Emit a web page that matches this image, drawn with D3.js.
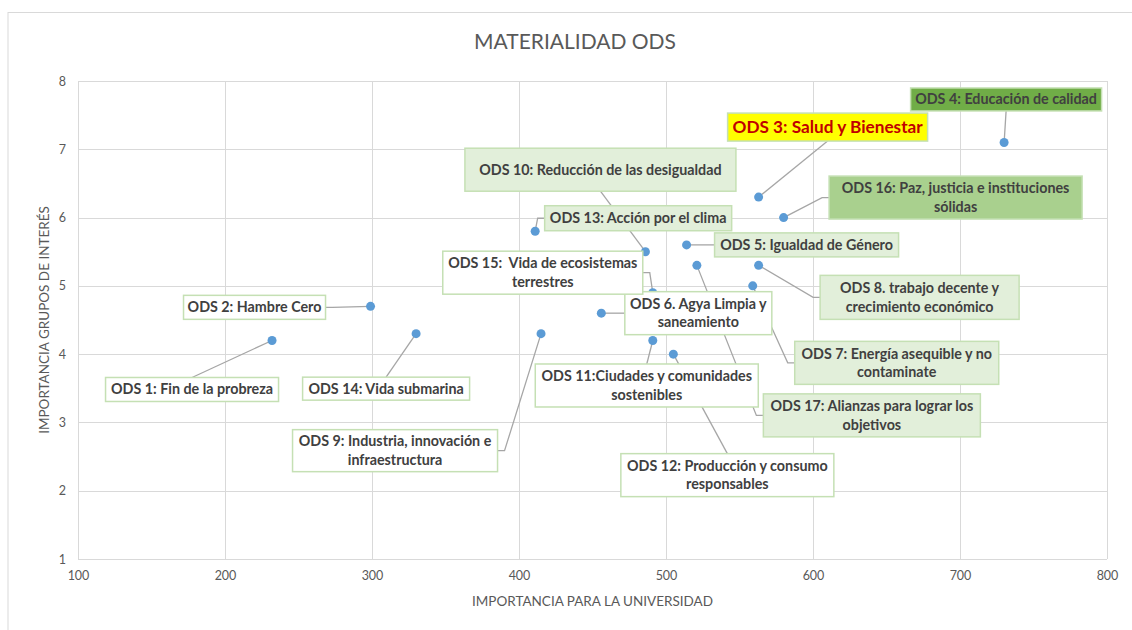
<!DOCTYPE html>
<html>
<head>
<meta charset="utf-8">
<script src="https://cdn.jsdelivr.net/npm/d3@7"></script>
<style>
  body { margin: 0; background: #fff; }
  svg text { font-family: Lato, "Open Sans", sans-serif; }
</style>
</head>
<body>
<div id="chart"></div>
<script>
// materialidad: universidad (x) vs grupos de interes (y)
var labels = [
    "ODS 1: Fin de la probreza",
    "ODS 2: Hambre Cero",
    "ODS 3: Salud y Bienestar",
    "ODS 4: Educación de calidad",
    "ODS 5: Igualdad de Género",
    "ODS 6. Agya Limpia y\nsaneamiento",
    "ODS 7: Energía asequible y no\ncontaminate",
    "ODS 8. trabajo decente y\ncrecimiento económico",
    "ODS 9: Industria, innovación e\ninfraestructura",
    "ODS 10: Reducción de las desigualdad",
    "ODS 11:Ciudades y comunidades\nsostenibles",
    "ODS 12: Producción y consumo\nresponsables",
    "ODS 13: Acción por el clima",
    "ODS 14: Vida submarina",
    "ODS 15:  Vida de ecosistemas\nterrestres",
    "ODS 16: Paz, justicia e instituciones\nsólidas",
    "ODS 17: Alianzas para lograr los\nobjetivos"
];
var universidad = [232, 299, 563, 730, 514, 456, 559, 563, 415, 486, 491, 505, 411, 330, 491, 580, 521];
var gruposInteres = [4.2, 4.7, 6.3, 7.1, 5.6, 4.6, 5.0, 5.3, 4.3, 5.5, 4.2, 4.0, 5.8, 4.3, 4.9, 6.0, 5.3];

var xTicks = [100, 200, 300, 400, 500, 600, 700, 800];
var yTicks = [1, 2, 3, 4, 5, 6, 7, 8];

// label box placement (offset from point, in px) and look
var labelLayout = [
    { dx: -80, dy: 49, w: 173, h: 24, look: "white" },
    { dx: -116, dy: 1, w: 142, h: 24, look: "white" },
    { dx: 69, dy: -70, w: 200, h: 28, look: "yellow" },
    { dx: 2, dy: -43, w: 191, h: 23, look: "dark" },
    { dx: 120, dy: 0, w: 184, h: 24, look: "light" },
    { dx: 97, dy: 0, w: 147, h: 43, look: "white" },
    { dx: 144, dy: 77, w: 204, h: 43, look: "light" },
    { dx: 161, dy: 32, w: 199, h: 44, look: "light" },
    { dx: -146, dy: 117, w: 205, h: 42, look: "white" },
    { dx: -45, dy: -82, w: 271, h: 43, look: "light" },
    { dx: -6, dy: 45, w: 223, h: 43, look: "white" },
    { dx: 54, dy: 121, w: 213, h: 43, look: "white" },
    { dx: 103, dy: -13, w: 187, h: 25, look: "light" },
    { dx: -30, dy: 55, w: 167, h: 23, look: "white" },
    { dx: -110, dy: -20, w: 200, h: 43, look: "white" },
    { dx: 172, dy: -20, w: 253, h: 43, look: "mid" },
    { dx: 175, dy: 150, w: 217, h: 43, look: "light" }
];

var looks = {
    white: { fill: "#ffffff", text: "#404040", size: 14.3 },
    light: { fill: "#e2efda", text: "#404040", size: 14.3 },
    mid: { fill: "#a9d08e", text: "#404040", size: 14.3 },
    dark: { fill: "#70ad47", text: "#404040", size: 14.3 },
    yellow: { fill: "#ffff00", text: "#c00000", size: 17.2 }
};

var W = 1132, H = 630;
var margin = { top: 81, right: 25, bottom: 71, left: 78 };

var svg = d3.select("#chart").append("svg")
    .attr("width", W)
    .attr("height", H);

// chart frame
svg.append("rect")
    .attr("x", 8).attr("y", 12.5)
    .attr("width", W + 20).attr("height", H + 20)
    .attr("fill", "none").attr("stroke", "#d9d9d9");

var x = d3.scaleLinear().domain([100, 800]).range([margin.left, W - margin.right]);
var y = d3.scaleLinear().domain([1, 8]).range([H - margin.bottom, margin.top]);

var grid = svg.append("g");
grid.selectAll(".vx").data(xTicks).enter().append("line")
    .attr("x1", d => Math.round(x(d)) + 0.5).attr("x2", d => Math.round(x(d)) + 0.5)
    .attr("y1", y(8)).attr("y2", y(1))
    .attr("stroke", "#d9d9d9");
grid.selectAll(".hy").data(yTicks).enter().append("line")
    .attr("y1", d => Math.round(y(d)) + 0.5).attr("y2", d => Math.round(y(d)) + 0.5)
    .attr("x1", x(100)).attr("x2", x(800))
    .attr("stroke", "#d9d9d9");

var xAxis = svg.append("g")
    .attr("transform", "translate(0," + y(1) + ")")
    .call(d3.axisBottom(x).tickValues(xTicks).tickFormat(d3.format("d")).tickSize(0).tickPadding(12));
var yAxis = svg.append("g")
    .attr("transform", "translate(" + x(100) + ",0)")
    .call(d3.axisLeft(y).tickValues(yTicks).tickFormat(d3.format("d")).tickSize(0).tickPadding(12));
[xAxis, yAxis].forEach(function (a) {
    a.select(".domain").remove();
    a.selectAll("text").attr("fill", "#595959").style("font-size", "12.5px")
        .style("font-family", "Lato, sans-serif");
});

svg.append("text")
    .attr("x", 575).attr("y", 49)
    .attr("text-anchor", "middle")
    .attr("fill", "#595959")
    .style("font-size", "21px")
    .text("MATERIALIDAD ODS");

svg.append("text")
    .attr("x", x(450)).attr("y", 606)
    .attr("text-anchor", "middle")
    .attr("fill", "#595959")
    .style("font-size", "13.5px")
    .text("IMPORTANCIA PARA LA UNIVERSIDAD");

svg.append("text")
    .attr("transform", "translate(49," + y(4.5) + ") rotate(-90)")
    .attr("text-anchor", "middle")
    .attr("fill", "#595959")
    .style("font-size", "13.5px")
    .text("IMPORTANCIA GRUPOS DE INTERÉS");

var pts = labels.map(function (l, i) {
    var px = x(universidad[i]), py = y(gruposInteres[i]);
    var L = labelLayout[i];
    var cx = px + L.dx, cy = py + L.dy;
    return {
        label: l, px: px, py: py, L: L,
        x0: cx - L.w / 2, x1: cx + L.w / 2, y0: cy - L.h / 2, y1: cy + L.h / 2, cx: cx, cy: cy
    };
});

// leader lines
function leader(d) {
    if (d.px < d.x0) {
        return "M" + d.x0 + "," + d.cy + "H" + (d.x0 - 7) + "L" + d.px + "," + d.py;
    }
    if (d.px > d.x1) {
        return "M" + d.x1 + "," + d.cy + "H" + (d.x1 + 7) + "L" + d.px + "," + d.py;
    }
    var ey = d.py < d.y0 ? d.y0 : d.y1;
    return "M" + d.cx + "," + ey + "L" + d.px + "," + d.py;
}
svg.append("g").selectAll("path").data(pts).enter().append("path")
    .attr("d", leader)
    .attr("fill", "none")
    .attr("stroke", "#a6a6a6")
    .attr("stroke-width", 1.3);

svg.append("g").selectAll("circle").data(pts).enter().append("circle")
    .attr("cx", d => d.px).attr("cy", d => d.py)
    .attr("r", 4.5)
    .attr("fill", "#5b9bd5");

var boxes = svg.append("g").selectAll("g").data(pts).enter().append("g");
boxes.append("rect")
    .attr("x", d => d.x0).attr("y", d => d.y0)
    .attr("width", d => d.L.w).attr("height", d => d.L.h)
    .attr("fill", d => looks[d.L.look].fill)
    .attr("stroke", "#c5e0b4")
    .attr("stroke-width", 1.5);

boxes.each(function (d) {
    var lines = d.label.split("\n");
    var lk = looks[d.L.look];
    var lh = 18.5;
    var t = d3.select(this).append("text")
        .attr("text-anchor", "middle")
        .attr("fill", lk.text)
        .style("font-size", lk.size + "px")
        .style("font-weight", "bold")
        .style("white-space", "pre");
    lines.forEach(function (s, k) {
        t.append("tspan")
            .attr("x", d.cx)
            .attr("y", d.cy + (k - (lines.length - 1) / 2) * lh)
            .attr("dy", "0.35em")
            .text(s);
    });
});
</script>
</body>
</html>
